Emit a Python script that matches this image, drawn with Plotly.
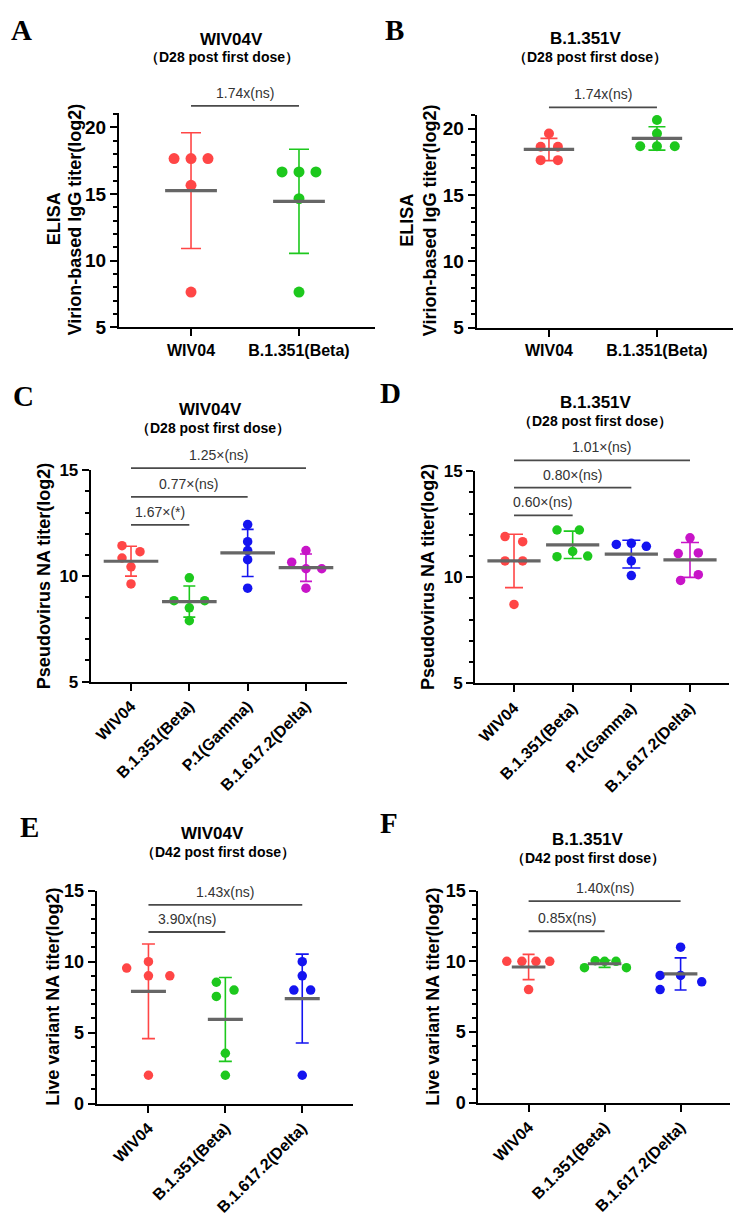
import numpy as np
import plotly.graph_objects as go

W, H = 737, 1227
FONT = "Liberation Sans, Arial, Helvetica, sans-serif"
SERIF = "Liberation Serif, Times New Roman, serif"

RED, GREEN, BLUE, MAGENTA = "#FF4646", "#1DC81D", "#1414F0", "#C814C8"
MEAN_COLOR = "#666666"
BAR_COLOR = "#4A4A4A"
SIG_TEXT_COLOR = "#333333"

# ---------------- data ----------------
# Panel A : ELISA, WIV04V, D28
A_CATS = ["WIV04", "B.1.351(Beta)"]
A_WIV04 = [17.65, 17.65, 17.65, 15.65, 7.65]
A_BETA = [16.65, 16.65, 16.65, 14.65, 7.65]
A_WIV04_SPREAD = [-0.157, 0, 0.157, 0, 0]
A_BETA_SPREAD = [-0.157, 0, 0.157, 0, 0]
A_YTICKS = [5, 10, 15, 20]
A_COMPS = [(0, 1, 21.6, "1.74x(ns)")]

# Panel B : ELISA, B.1.351V, D28
B_CATS = ["WIV04", "B.1.351(Beta)"]
B_WIV04 = [19.63, 18.64, 18.64, 17.63, 17.63]
B_BETA = [20.65, 19.63, 18.68, 18.68, 18.68]
B_WIV04_SPREAD = [0, -0.077, 0.083, -0.077, 0.083]
B_BETA_SPREAD = [0, 0, -0.155, 0, 0.165]
B_YTICKS = [5, 10, 15, 20]
B_COMPS = [(0, 1, 21.6, "1.74x(ns)")]

# Panel C : pseudovirus, WIV04V, D28
C_CATS = ["WIV04", "B.1.351(Beta)", "P.1(Gamma)", "B.1.617.2(Delta)"]
C_WIV04 = [11.43, 11.15, 10.85, 10.43, 9.62]
C_BETA = [9.91, 8.83, 8.83, 8.49, 7.88]
C_GAMMA = [12.43, 11.62, 11.20, 10.77, 9.42]
C_DELTA = [10.65, 11.20, 10.34, 10.34, 9.42]
C_WIV04_SPREAD = [-0.154, 0.154, -0.154, 0, 0]
C_BETA_SPREAD = [0, -0.263, 0.263, 0, 0]
C_GAMMA_SPREAD = [0, 0, 0, 0, 0]
C_DELTA_SPREAD = [-0.245, 0, 0, 0.27, 0]
C_YTICKS = [5, 10, 15]
C_COMPS = [(0, 1, 12.42, "1.67×(*)"), (0, 2, 13.74, "0.77×(ns)"), (0, 3, 15.10, "1.25×(ns)")]

# Panel D : pseudovirus, B.1.351V, D28
D_CATS = ["WIV04", "B.1.351(Beta)", "P.1(Gamma)", "B.1.617.2(Delta)"]
D_WIV04 = [11.92, 11.68, 10.77, 10.77, 8.72]
D_BETA = [12.23, 12.23, 10.97, 11.22, 11.00]
D_GAMMA = [11.55, 11.60, 11.46, 10.77, 10.08]
D_DELTA = [11.86, 11.12, 11.15, 9.85, 10.12]
D_WIV04_SPREAD = [-0.153, 0.148, -0.153, 0.148, 0]
D_BETA_SPREAD = [-0.267, 0.114, -0.267, 0, 0.256]
D_GAMMA_SPREAD = [-0.256, 0, 0.256, 0, 0]
D_DELTA_SPREAD = [0, -0.2, 0.142, -0.16, 0.142]
D_YTICKS = [5, 10, 15]
D_COMPS = [(0, 1, 12.92, "0.60×(ns)"), (0, 2, 14.23, "0.80×(ns)"), (0, 3, 15.51, "1.01×(ns)")]

# Panel E : live virus, WIV04V, D42
E_CATS = ["WIV04", "B.1.351(Beta)", "B.1.617.2(Delta)"]
E_WIV04 = [9.55, 10.0, 9.0, 9.0, 2.0]
E_BETA = [8.55, 7.55, 8.0, 3.55, 2.0]
E_DELTA = [10.0, 9.0, 8.0, 8.0, 2.0]
E_WIV04_SPREAD = [-0.283, 0, 0, 0.278, 0]
E_BETA_SPREAD = [-0.117, -0.117, 0.113, 0, 0]
E_DELTA_SPREAD = [0, 0, -0.109, 0.109, 0]
E_YTICKS = [0, 5, 10, 15]
E_COMPS = [(0, 1, 12.09, "3.90x(ns)"), (0, 2, 14.0, "1.43x(ns)")]

# Panel F : live virus, B.1.351V, D42
F_CATS = ["WIV04", "B.1.351(Beta)", "B.1.617.2(Delta)"]
F_WIV04 = [10.0, 10.0, 10.0, 10.0, 8.0]
F_BETA = [9.55, 10.04, 10.0, 10.0, 9.55]
F_DELTA = [9.0, 8.0, 9.0, 11.0, 8.55]
F_WIV04_SPREAD = [-0.287, -0.088, 0.097, 0.278, 0]
F_BETA_SPREAD = [-0.265, -0.124, 0, 0.15, 0.287]
F_DELTA_SPREAD = [-0.27, -0.27, 0, 0, 0.278]
F_YTICKS = [0, 5, 10, 15]
F_COMPS = [(0, 1, 12.13, "0.85x(ns)"), (0, 2, 14.26, "1.40x(ns)")]

TITLE_WIV = "WIV04V"
TITLE_B = "B.1.351V"
SUB_D28 = "（D28 post first dose）"
SUB_D42 = "（D42 post first dose）"
YT_ELISA = ["ELISA", "Virion-based IgG titer(log2)"]
YT_PSEUDO = ["Pseudovirus NA titer(log2)"]
YT_LIVE = ["Live variant NA titer(log2)"]

# ---------------- panel specs (layout in px) ----------------
PANELS = [
    dict(letter="A", cats=A_CATS, groups=[A_WIV04, A_BETA], spreads=[A_WIV04_SPREAD, A_BETA_SPREAD],
         colors=[RED, GREEN], yticks=A_YTICKS, comps=A_COMPS, title=TITLE_WIV, sub=SUB_D28, ytitle=YT_ELISA,
         l=119, r=375, t=105, b=323, xr=(-0.667, 1.704), yr=(5, 21.05), angle=0,
         ytf=19, xtf=16, msize=11, meanw=37, cap=10,
         letter_xy=(21, 20), title_xy=(231, 30), sub_xy=(222, 48), ytitle_x=[54, 75], ytitle_y=213),
    dict(letter="B", cats=B_CATS, groups=[B_WIV04, B_BETA], spreads=[B_WIV04_SPREAD, B_BETA_SPREAD],
         colors=[RED, GREEN], yticks=B_YTICKS, comps=B_COMPS, title=TITLE_B, sub=SUB_D28, ytitle=YT_ELISA,
         l=476.7, r=733, t=106.7, b=323.3, xr=(-0.669, 1.704), yr=(5, 21.04), angle=0,
         ytf=19, xtf=16, msize=10, meanw=36, cap=8.5,
         letter_xy=(394, 20), title_xy=(586, 29), sub_xy=(590, 48), ytitle_x=[407.5, 430.8], ytitle_y=214),
    dict(letter="C", cats=C_CATS, groups=[C_WIV04, C_BETA, C_GAMMA, C_DELTA],
         spreads=[C_WIV04_SPREAD, C_BETA_SPREAD, C_GAMMA_SPREAD, C_DELTA_SPREAD],
         colors=[RED, GREEN, BLUE, MAGENTA], yticks=C_YTICKS, comps=C_COMPS, title=TITLE_WIV, sub=SUB_D28,
         ytitle=YT_PSEUDO,
         l=90.7, r=346.7, t=468.3, b=683.3, xr=(-0.691, 3.698), yr=(5, 15), angle=-45,
         ytf=17, xtf=16, msize=9.5, meanw=39, cap=6,
         letter_xy=(23, 393), title_xy=(211, 406), sub_xy=(212.5, 425), ytitle_x=[44], ytitle_y=576),
    dict(letter="D", cats=D_CATS, groups=[D_WIV04, D_BETA, D_GAMMA, D_DELTA],
         spreads=[D_WIV04_SPREAD, D_BETA_SPREAD, D_GAMMA_SPREAD, D_DELTA_SPREAD],
         colors=[RED, GREEN, BLUE, MAGENTA], yticks=D_YTICKS, comps=D_COMPS, title=TITLE_B, sub=SUB_D28,
         ytitle=YT_PSEUDO,
         l=475, r=729.3, t=469.3, b=685, xr=(-0.665, 3.67), yr=(5, 15), angle=-45,
         ytf=17, xtf=16, msize=9.5, meanw=38, cap=9,
         letter_xy=(390, 390), title_xy=(596, 399), sub_xy=(595, 418), ytitle_x=[428], ytitle_y=577),
    dict(letter="E", cats=E_CATS, groups=[E_WIV04, E_BETA, E_DELTA],
         spreads=[E_WIV04_SPREAD, E_BETA_SPREAD, E_DELTA_SPREAD],
         colors=[RED, GREEN, BLUE], yticks=E_YTICKS, comps=E_COMPS, title=TITLE_WIV, sub=SUB_D42,
         ytitle=YT_LIVE,
         l=96.7, r=353, t=896, b=1112.7, xr=(-0.673, 2.66), yr=(0, 15), angle=-45,
         ytf=18, xtf=16, msize=9.5, meanw=25, cap=6.5,
         letter_xy=(29, 831), title_xy=(212, 838), sub_xy=(217.5, 857), ytitle_x=[53], ytitle_y=1004),
    dict(letter="F", cats=F_CATS, groups=[F_WIV04, F_BETA, F_DELTA],
         spreads=[F_WIV04_SPREAD, F_BETA_SPREAD, F_DELTA_SPREAD],
         colors=[RED, GREEN, BLUE], yticks=F_YTICKS, comps=F_COMPS, title=TITLE_B, sub=SUB_D42,
         ytitle=YT_LIVE,
         l=478.3, r=730, t=896, b=1111.7, xr=(-0.662, 2.65), yr=(0, 15), angle=-45,
         ytf=18, xtf=16, msize=9.5, meanw=24, cap=6,
         letter_xy=(389, 827), title_xy=(587.5, 844), sub_xy=(588, 863), ytitle_x=[433], ytitle_y=1004),
]

EXT = 60  # px above plot top used for comparison bars


def fx(px):
    return px / W


def fy(py):
    return 1 - py / H


def ax_name(letter, k):
    return letter + "axis" + ("" if k == 1 else str(k))


def ax_ref(letter, k):
    return letter + ("" if k == 1 else str(k))


fig = go.Figure()
layout = dict(width=W, height=H, autosize=False, margin=dict(l=0, r=0, t=0, b=0),
              showlegend=False, plot_bgcolor="rgba(0,0,0,0)", paper_bgcolor="white",
              font=dict(family=FONT, color="black"))
annotations = []
n_p = len(PANELS)

for k, p in enumerate(PANELS, start=1):
    ko = k + n_p
    xd = [fx(p["l"]), fx(p["r"])]
    yd = [fy(p["b"]), fy(p["t"])]
    y0, y1 = p["yr"]
    ppu = (p["b"] - p["t"]) / (y1 - y0)
    yd_o = [fy(p["b"]), fy(p["t"] - EXT)]
    yr_o = [y0, y1 + EXT / ppu]

    layout[ax_name("x", k)] = dict(
        domain=xd, range=list(p["xr"]), anchor=ax_ref("y", k),
        tickmode="array", tickvals=list(range(len(p["cats"]))), ticktext=p["cats"],
        ticks="outside", ticklen=7, tickwidth=2, tickcolor="black",
        showline=True, linewidth=2, linecolor="black", showgrid=False, zeroline=False,
        tickangle=p["angle"], tickfont=dict(family=FONT, size=p["xtf"], color="black", weight="bold"),
        fixedrange=True)
    layout[ax_name("y", k)] = dict(
        domain=yd, range=list(p["yr"]), anchor=ax_ref("x", k),
        tickmode="array", tickvals=p["yticks"],
        ticks="outside", ticklen=7, tickwidth=2, tickcolor="black",
        minor=dict(ticks="outside", ticklen=4, tickwidth=1.5, tickcolor="black", dtick=1, tick0=0),
        showline=True, linewidth=2, linecolor="black", showgrid=False, zeroline=False,
        tickfont=dict(family=FONT, size=p["ytf"], color="black", weight="bold"),
        fixedrange=True)
    layout[ax_name("x", ko)] = dict(domain=xd, range=list(p["xr"]), anchor=ax_ref("y", ko),
                                    visible=False, fixedrange=True)
    layout[ax_name("y", ko)] = dict(domain=yd_o, range=yr_o, anchor=ax_ref("x", ko),
                                    visible=False, fixedrange=True)

    xa, ya = ax_ref("x", k), ax_ref("y", k)
    xo, yo = ax_ref("x", ko), ax_ref("y", ko)

    for i, (vals, spr, col) in enumerate(zip(p["groups"], p["spreads"], p["colors"])):
        vals = np.asarray(vals, dtype=float)
        fig.add_trace(go.Scatter(
            x=[i + s for s in spr], y=vals, mode="markers", xaxis=xa, yaxis=ya,
            marker=dict(color=col, size=p["msize"], line=dict(width=0)),
            cliponaxis=False, hoverinfo="skip"))
    for i, (vals, col) in enumerate(zip(p["groups"], p["colors"])):
        vals = np.asarray(vals, dtype=float)
        m = float(vals.mean())
        sd = float(vals.std(ddof=1))
        fig.add_trace(go.Scatter(
            x=[i], y=[m], mode="markers", xaxis=xa, yaxis=ya,
            marker=dict(symbol="line-ew", size=p["meanw"], color=MEAN_COLOR,
                        line=dict(width=3.2, color=MEAN_COLOR)),
            error_y=dict(type="data", array=[sd], visible=True, color=col, thickness=1.6, width=p["cap"]),
            cliponaxis=False, hoverinfo="skip"))

    for (i0, i1, yl, lab) in p["comps"]:
        fig.add_trace(go.Scatter(
            x=[i0, i1], y=[yl, yl], mode="lines", xaxis=xo, yaxis=yo,
            line=dict(color=BAR_COLOR, width=1.8), hoverinfo="skip"))
        annotations.append(dict(
            x=(i0 + i1) / 2, y=yl, xref=xo, yref=yo, text=lab, showarrow=False,
            xanchor="center", yanchor="bottom", yshift=3,
            font=dict(family=FONT, size=14, color=SIG_TEXT_COLOR)))

    # panel letter
    lx, ly = p["letter_xy"]
    annotations.append(dict(x=fx(lx), y=fy(ly), xref="paper", yref="paper", text="<b>%s</b>" % p["letter"],
                            showarrow=False, xanchor="center", yanchor="middle",
                            font=dict(family=SERIF, size=29, color="black")))
    # titles
    tx, ty = p["title_xy"]
    annotations.append(dict(x=fx(tx), y=fy(ty), xref="paper", yref="paper", text="<b>%s</b>" % p["title"],
                            showarrow=False, xanchor="center", yanchor="middle",
                            font=dict(family=FONT, size=17, color="black")))
    sx, sy = p["sub_xy"]
    annotations.append(dict(x=fx(sx), y=fy(sy), xref="paper", yref="paper", text="<b>%s</b>" % p["sub"],
                            showarrow=False, xanchor="center", yanchor="middle",
                            font=dict(family=FONT, size=14, color="black")))
    # y titles
    for line, cx in zip(p["ytitle"], p["ytitle_x"]):
        annotations.append(dict(x=fx(cx), y=fy(p["ytitle_y"]), xref="paper", yref="paper",
                                text="<b>%s</b>" % line, textangle=-90, showarrow=False,
                                xanchor="center", yanchor="middle",
                                font=dict(family=FONT, size=18, color="black")))

layout["annotations"] = annotations
fig.update_layout(**layout)
fig.write_html("out.html")
